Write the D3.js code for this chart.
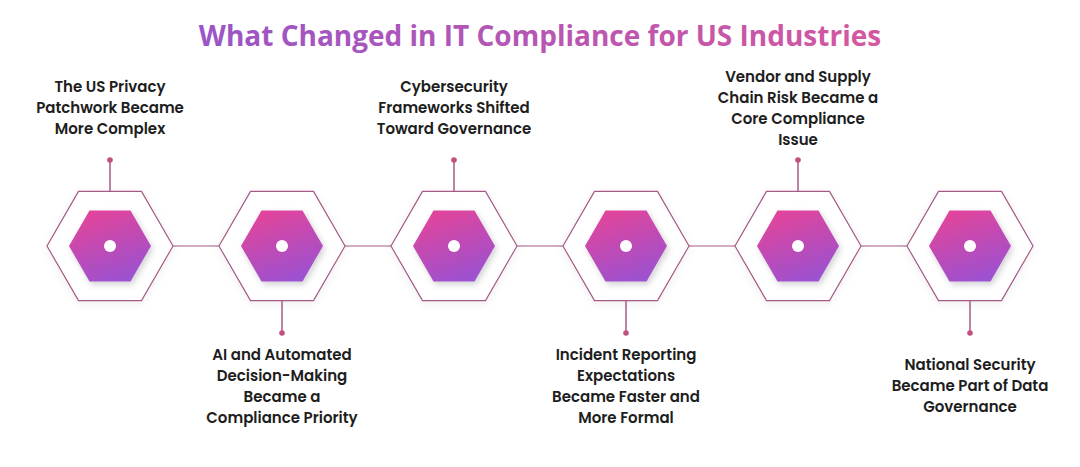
<!DOCTYPE html>
<html><head><meta charset="utf-8">
<script src="https://cdn.jsdelivr.net/npm/d3@7"></script>
<style>body{margin:0;background:#fff}</style>
</head><body><svg></svg>
<script>
const title = "What Changed in IT Compliance for US Industries";
const labels = [
  ["The US Privacy", "Patchwork Became", "More Complex"],
  ["AI and Automated", "Decision-Making", "Became a", "Compliance Priority"],
  ["Cybersecurity", "Frameworks Shifted", "Toward Governance"],
  ["Incident Reporting", "Expectations", "Became Faster and", "More Formal"],
  ["Vendor and Supply", "Chain Risk Became a", "Core Compliance", "Issue"],
  ["National Security", "Became Part of Data", "Governance"]
];
const sides = ["top", "bottom", "top", "bottom", "top", "bottom"];

const width = 1080, height = 467;
const svg = d3.select("svg").attr("width", width).attr("height", height)
  .style("font-family", "Poppins, 'Open Sans', sans-serif");

const defs = svg.append("defs");
const tg = defs.append("linearGradient").attr("id", "tg");
tg.append("stop").attr("offset", 0).attr("stop-color", "#9a55c6");
tg.append("stop").attr("offset", 1).attr("stop-color", "#d4579f");
const hg = defs.append("linearGradient").attr("id", "hg")
  .attr("x1", 0.3).attr("y1", 0).attr("x2", 0.7).attr("y2", 1);
hg.append("stop").attr("offset", 0).attr("stop-color", "#e2449a");
hg.append("stop").attr("offset", 1).attr("stop-color", "#9a52d2");
const sh = defs.append("filter").attr("id", "sh").attr("x", "-30%").attr("y", "-30%").attr("width", "160%").attr("height", "160%");
sh.append("feDropShadow").attr("dx", 2).attr("dy", 3).attr("stdDeviation", 3).attr("flood-color", "#000").attr("flood-opacity", 0.18);
const sh2 = defs.append("filter").attr("id", "sh2").attr("x", "-30%").attr("y", "-30%").attr("width", "160%").attr("height", "160%");
sh2.append("feDropShadow").attr("dx", 0).attr("dy", 2).attr("stdDeviation", 4).attr("flood-color", "#000").attr("flood-opacity", 0.07);

svg.append("text").attr("x", 540).attr("y", 46).attr("text-anchor", "middle")
  .attr("font-size", 28).attr("font-weight", 700).attr("font-family", "'Open Sans', sans-serif")
  .attr("fill", "url(#tg)").text(title);

const x = d3.scalePoint().domain(d3.range(labels.length)).range([110, 970]);
const cy = 246, R = 63, r = 41;
const hex = rad => d3.range(6).map(i => [rad * Math.cos(i * Math.PI / 3), rad * Math.sin(i * Math.PI / 3)]);
const line = d3.line().curve(d3.curveLinearClosed);
const stroke = "#a65a86";

// connectors
svg.append("line").attr("x1", x(0)).attr("x2", x(labels.length - 1))
  .attr("y1", cy).attr("y2", cy).attr("stroke", stroke).attr("stroke-width", 1.2);

const g = svg.selectAll("g.step").data(labels).join("g").attr("class", "step")
  .attr("transform", (d, i) => `translate(${x(i)},${cy})`);

g.append("path").attr("d", line(hex(R))).attr("fill", "#fff").attr("stroke", stroke)
  .attr("stroke-width", 1.2).attr("filter", "url(#sh2)");
g.append("path").attr("d", line(hex(r))).attr("fill", "url(#hg)").attr("filter", "url(#sh)");
g.append("circle").attr("r", 6).attr("fill", "#fff");

const hh = R * Math.sqrt(3) / 2;
g.append("line").attr("x1", 0).attr("x2", 0)
  .attr("y1", (d, i) => sides[i] === "top" ? -hh : hh)
  .attr("y2", (d, i) => sides[i] === "top" ? -86 : 87)
  .attr("stroke", stroke).attr("stroke-width", 1.5);
g.append("circle").attr("cy", (d, i) => sides[i] === "top" ? -86 : 87)
  .attr("r", 2.8).attr("fill", "#c0507f");

const lh = 21;
g.append("text").attr("text-anchor", "middle").attr("font-size", 15).attr("font-weight", 600)
  .attr("fill", "#1e1e1e")
  .each(function(d, i) {
    const c = sides[i] === "top" ? 108 - cy : 386 - cy;
    const y0 = c - (d.length - 1) * lh / 2 + 5;
    d3.select(this).selectAll("tspan").data(d).join("tspan")
      .attr("x", 0).attr("y", (t, j) => y0 + j * lh).text(t => t);
  });
</script></body></html>
